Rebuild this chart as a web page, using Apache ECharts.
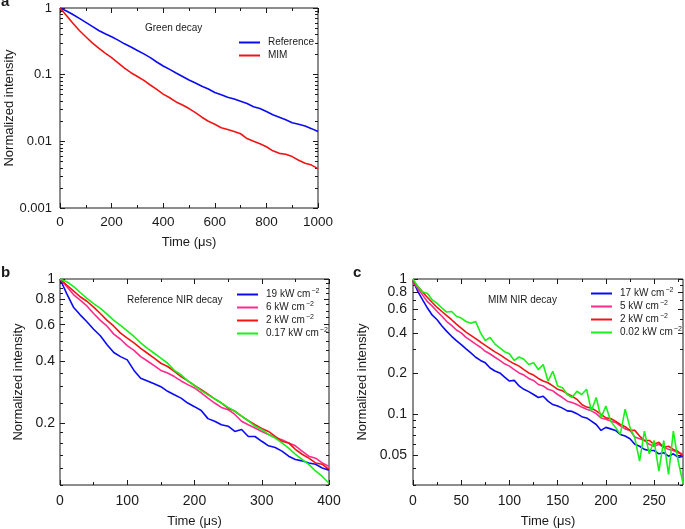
<!DOCTYPE html>
<html>
<head>
<meta charset="utf-8">
<title>Decay curves</title>
<script src="https://cdn.jsdelivr.net/npm/echarts@6/dist/echarts.min.js"></script>
<style>
  html, body { margin: 0; padding: 0; background: #fff; }
</style>
</head>
<body>
<div id="main" style="width:685px;height:529px;"></div>
<script type="text/javascript">
// ---- panel a : green decay (time in us, normalized intensity) ----
var timeA = [0,25,50,75,100,125,150,175,200,225,250,275,300,325,350,375,400,425,450,475,500,
             525,550,575,600,625,650,675,700,725,750,775,800,825,850,875,900,925,950,975,1000];
var refGreen = [1.0,0.90,0.80,0.70,0.61,0.53,0.46,0.41,0.37,0.33,0.29,0.26,0.23,0.205,0.18,0.155,0.135,0.12,0.106,0.094,0.083,
                0.075,0.067,0.061,0.054,0.050,0.046,0.043,0.040,0.037,0.033,0.031,0.028,0.025,0.023,0.021,0.019,0.018,0.017,0.0155,0.014];
var mimGreen = [1.0,0.77,0.59,0.46,0.37,0.30,0.25,0.21,0.18,0.15,0.125,0.107,0.094,0.082,0.070,0.060,0.051,0.045,0.039,0.035,0.031,
                0.027,0.023,0.020,0.018,0.016,0.015,0.014,0.013,0.011,0.010,0.0092,0.0083,0.0072,0.0066,0.0064,0.0059,0.0052,0.0047,0.0044,0.0039];

// ---- panel b : reference NIR decay ----
var timeB = [0,10,20,30,40,50,60,70,80,90,100,110,120,130,140,150,160,170,180,190,200,
             210,220,230,240,250,260,270,280,290,300,310,320,330,340,350,360,370,380,390,400];
var refNir19 = [1,0.85,0.73,0.67,0.62,0.57,0.53,0.48,0.44,0.42,0.405,0.36,0.33,0.32,0.31,0.30,0.285,0.274,0.264,0.25,0.24,
                0.23,0.21,0.204,0.196,0.193,0.182,0.186,0.172,0.172,0.163,0.155,0.152,0.146,0.138,0.133,0.131,0.128,0.126,0.121,0.118];
var refNir6 = [1,0.92,0.84,0.79,0.74,0.68,0.63,0.59,0.54,0.51,0.475,0.45,0.42,0.40,0.38,0.36,0.35,0.336,0.32,0.307,0.296,
               0.28,0.264,0.25,0.238,0.232,0.22,0.204,0.196,0.189,0.182,0.176,0.17,0.166,0.16,0.155,0.146,0.138,0.135,0.128,0.123];
var refNir2 = [1,0.935,0.875,0.82,0.78,0.73,0.68,0.63,0.59,0.546,0.516,0.49,0.46,0.436,0.413,0.39,0.376,0.356,0.336,0.32,0.304,
               0.29,0.276,0.262,0.25,0.236,0.228,0.216,0.205,0.196,0.188,0.182,0.172,0.163,0.16,0.149,0.141,0.135,0.128,0.126,0.119];
var refNir017 = [1,0.97,0.92,0.86,0.805,0.76,0.72,0.675,0.63,0.595,0.56,0.526,0.49,0.46,0.436,0.413,0.39,0.36,0.343,0.32,0.304,
                 0.287,0.274,0.262,0.25,0.238,0.228,0.216,0.205,0.193,0.186,0.176,0.169,0.16,0.151,0.141,0.133,0.126,0.117,0.11,0.102];

// ---- panel c : MIM NIR decay ----
var timeC = [0,5,10,15,20,25,30,35,40,45,50,55,60,65,70,75,80,85,90,95,100,105,110,115,120,125,130,135,140,145,
             150,155,160,165,170,175,180,185,190,195,200,205,210,215,220,225,230,235,240,245,250,255,260,265,270,275,280];
var mimNir17 = [0.97,0.81,0.70,0.61,0.54,0.50,0.45,0.41,0.377,0.35,0.327,0.304,0.284,0.264,0.25,0.24,0.22,0.209,0.202,0.188,
                0.176,0.178,0.162,0.153,0.147,0.14,0.133,0.136,0.125,0.118,0.115,0.111,0.106,0.105,0.101,0.096,0.094,0.089,0.084,0.076,
                0.080,0.078,0.076,0.071,0.069,0.066,0.060,0.058,0.055,0.054,0.054,0.051,0.052,0.049,0.051,0.048,0.049];
var mimNir5 = [0.955,0.85,0.76,0.68,0.63,0.575,0.53,0.485,0.454,0.42,0.40,0.37,0.35,0.33,0.313,0.292,0.279,0.264,0.25,0.236,
               0.227,0.214,0.202,0.195,0.184,0.178,0.166,0.162,0.153,0.149,0.14,0.133,0.125,0.122,0.118,0.113,0.109,0.106,0.101,0.094,
               0.092,0.089,0.087,0.082,0.078,0.076,0.068,0.066,0.064,0.060,0.058,0.060,0.057,0.055,0.054,0.052,0.051];
var mimNir2 = [0.97,0.88,0.80,0.73,0.67,0.616,0.575,0.537,0.50,0.464,0.434,0.405,0.383,0.362,0.342,0.323,0.306,0.289,0.276,0.261,
               0.247,0.236,0.227,0.214,0.202,0.195,0.184,0.176,0.171,0.162,0.153,0.149,0.142,0.136,0.129,0.118,0.113,0.111,0.106,0.10,
               0.094,0.093,0.089,0.084,0.081,0.076,0.076,0.069,0.064,0.064,0.060,0.062,0.057,0.058,0.055,0.053,0.049];
var mimNir002 = [1.0,0.88,0.80,0.78,0.70,0.66,0.61,0.57,0.575,0.53,0.514,0.485,0.47,0.485,0.40,0.35,0.37,0.33,0.31,0.29,
                 0.28,0.25,0.265,0.255,0.233,0.24,0.214,0.233,0.176,0.208,0.162,0.157,0.14,0.133,0.148,0.14,0.153,0.106,0.133,0.094,
                 0.115,0.089,0.08,0.071,0.109,0.08,0.067,0.045,0.075,0.051,0.064,0.038,0.064,0.036,0.075,0.045,0.031];

// tick positions / labels
var xMajorA = [0,200,400,600,800,1000], xMinorA = [100,300,500,700,900];
var xMajorB = [0,100,200,300,400],      xMinorB = [50,150,250,350];
var xMajorC = [0,50,100,150,200,250],   xMinorC = [25,75,125,175,225,275];
var yLabelsA = [0.001,0.01,0.1,1];
var yMinorA = [0.002,0.003,0.004,0.005,0.006,0.007,0.008,0.009,0.02,0.03,0.04,0.05,0.06,0.07,0.08,0.09,
               0.2,0.3,0.4,0.5,0.6,0.7,0.8,0.9];
var yLabelsB = [0.2,0.4,0.6,0.8,1];
var yMinorB = [0.1,0.12,0.14,0.16,0.18,0.25,0.3,0.35,0.45,0.5,0.55,0.65,0.7,0.75,0.85,0.9,0.95];
var yLabelsC = [0.05,0.1,0.2,0.4,0.6,0.8,1];
var yMinorC = [0.03,0.04,0.06,0.07,0.08,0.09,0.3,0.5,0.7,0.9];

var legendNames = {
    b19: '19 kW cm', b6: '6 kW cm', b2: '2 kW cm', b017: '0.17 kW cm',
    c17: '17 kW cm', c5: '5 kW cm', c2: '2 kW cm', c002: '0.02 kW cm'
};

var FONT = '"Liberation Sans", Arial, Helvetica, sans-serif';
var INK = '#1a1a1a';
var BLUE = '#0a0af5', RED = '#f01414', PINK = '#ff2a8c', GREEN = '#18f018';

function lg(arr) { return arr.map(function (v) { return Math.log10(v); }); }
function pts(t, v) { return t.map(function (x, i) { return [x, Math.log10(v[i])]; }); }
function fmtLog(v) { return String(+Math.pow(10, v).toPrecision(3)); }
function fmtPlain(v) { return String(v); }

// two axes per side: one for major ticks (+labels), one for minor ticks.
// extraLabel goes on the first side's minor axis (used when two labels sit too close)
function sideAxes(grid, min, max, sides, major, minor, label, name, extraLabel) {
    var list = [];
    sides.forEach(function (pos, k) {
        [major, minor].forEach(function (vals, m) {
            var main = (k === 0 && m === 0);
            var lab = { show: false };
            if (main) lab = label;
            else if (k === 0 && extraLabel) lab = extraLabel;
            var ax = {
                type: 'value', gridIndex: grid, position: pos, min: min, max: max,
                axisLine: { show: false, onZero: false },
                splitLine: { show: false },
                axisTick: { show: true, inside: true, length: m ? 3 : 5, customValues: vals,
                            lineStyle: { color: INK, width: 1 } },
                axisLabel: lab
            };
            if (main && name) {
                ax.name = name.text;
                ax.nameLocation = 'middle';
                ax.nameGap = name.gap;
                ax.nameTextStyle = { fontSize: 13, color: INK, fontFamily: FONT };
            }
            list.push(ax);
        });
    });
    return list;
}

function xLabel(vals, size, margin) {
    return { customValues: vals, formatter: fmtPlain, fontSize: size, margin: margin, color: INK, fontFamily: FONT,
             hideOverlap: false, showMinLabel: true, showMaxLabel: true };
}
function yLabel(vals, size, margin) {
    return { customValues: lg(vals), formatter: fmtLog, fontSize: size, margin: margin,
             color: INK, fontFamily: FONT, hideOverlap: false, showMinLabel: true, showMaxLabel: true };
}

var xAxes = [].concat(
    sideAxes(0, 0, 1000, ['bottom', 'top'], xMajorA, xMinorA, xLabel(xMajorA, 13.5, 7), { text: 'Time (\u03bcs)', gap: 28 }),
    sideAxes(1, 0, 400, ['bottom', 'top'], xMajorB, xMinorB, xLabel(xMajorB, 14, 9), { text: 'Time (\u03bcs)', gap: 30 }),
    sideAxes(2, 0, 280, ['bottom', 'top'], xMajorC, xMinorC, xLabel(xMajorC, 14, 9), { text: 'Time (\u03bcs)', gap: 30 })
);
var yAxes = [].concat(
    sideAxes(0, -3, 0, ['left', 'right'], lg(yLabelsA), lg(yMinorA), yLabel(yLabelsA, 13, 8), { text: 'Normalized intensity', gap: 41 }),
    sideAxes(1, -1, 0, ['left', 'right'], lg(yLabelsB), lg(yMinorB), yLabel(yLabelsB, 14, 5), { text: 'Normalized intensity', gap: 35 }),
    sideAxes(2, Math.log10(0.03), 0, ['left', 'right'], lg(yLabelsC), lg(yMinorC),
             yLabel(yLabelsC.slice(0, -1), 14, 6), { text: 'Normalized intensity', gap: 44 },
             yLabel(yLabelsC.slice(-1), 14, 6))
);

function line(name, axis, t, v, color) {
    return {
        type: 'line', name: name, xAxisIndex: axis, yAxisIndex: axis,
        data: pts(t, v), showSymbol: false, symbol: 'none',
        lineStyle: { color: color, width: 1.6 }, itemStyle: { color: color },
        emphasis: { disabled: true }
    };
}

var supRich = {
    t: { fontSize: 10, lineHeight: 13, color: INK, fontFamily: FONT },
    s: { fontSize: 7, lineHeight: 7, verticalAlign: 'top', color: INK, fontFamily: FONT, padding: [0, 0, 0, 1] }
};
function legendBox(names, left, top, rich) {
    var l = {
        data: names, orient: 'vertical', left: left, top: top, padding: 0, itemGap: 0,
        icon: 'rect', itemWidth: 21, itemHeight: 2, selectedMode: false,
        textStyle: { fontSize: 10, lineHeight: 13, color: INK, fontFamily: FONT, padding: [0, 0, 0, 3] }
    };
    if (rich) {
        l.formatter = function (n) { return '{t|' + legendNames[n] + '}{s|\u22122}'; };
        l.textStyle.rich = supRich;
    }
    return l;
}

function note(text, x, y, size, bold) {
    return {
        type: 'text', x: x, y: y,
        style: { text: text, fontSize: size, fontWeight: bold ? 'bold' : 'normal', fill: INK,
                 fontFamily: FONT, verticalAlign: 'middle' }
    };
}

var myChart = echarts.init(document.getElementById('main'));

var option = {
    animation: false,
    backgroundColor: '#fff',
    grid: [
        { left: 60, top: 8, width: 258, height: 200, show: true, borderColor: INK, borderWidth: 1 },
        { left: 60, top: 279, width: 269, height: 207, show: true, borderColor: INK, borderWidth: 1 },
        { left: 413, top: 279, width: 270, height: 207, show: true, borderColor: INK, borderWidth: 1 }
    ],
    xAxis: xAxes,
    yAxis: yAxes,
    legend: [
        legendBox(['Reference', 'MIM'], 239, 36, false),
        legendBox(['b19', 'b6', 'b2', 'b017'], 237, 288, true),
        legendBox(['c17', 'c5', 'c2', 'c002'], 591, 287, true)
    ],
    graphic: [
        note('a', 1, 2, 15, true),
        note('b', 1, 273, 15, true),
        note('c', 353, 273, 15, true),
        note('Green decay', 145, 28, 10, false),
        note('Reference NIR decay', 127, 300, 10, false),
        note('MIM NIR decay', 488, 300, 10, false)
    ],
    series: [
        line('Reference', 0, timeA, refGreen, BLUE),
        line('MIM', 0, timeA, mimGreen, RED),
        line('b19', 4, timeB, refNir19, BLUE),
        line('b6', 4, timeB, refNir6, PINK),
        line('b2', 4, timeB, refNir2, RED),
        line('b017', 4, timeB, refNir017, GREEN),
        line('c17', 8, timeC, mimNir17, BLUE),
        line('c5', 8, timeC, mimNir5, PINK),
        line('c2', 8, timeC, mimNir2, RED),
        line('c002', 8, timeC, mimNir002, GREEN)
    ]
};

myChart.setOption(option);
</script>
</body>
</html>
